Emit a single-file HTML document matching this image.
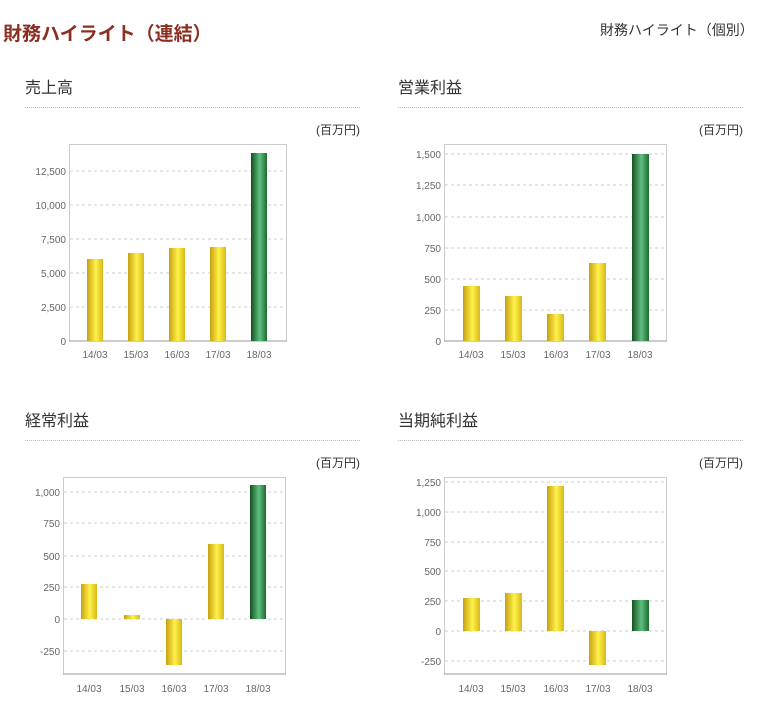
<!DOCTYPE html><html><head><meta charset="utf-8"><style>
body{margin:0;background:#fff;width:768px;height:719px;overflow:hidden}
svg text{font-family:"Liberation Sans","Noto Sans CJK JP",sans-serif}
</style></head><body>
<svg width="768" height="719" xmlns="http://www.w3.org/2000/svg">
<defs>
<linearGradient id="y" x1="0" x2="1" y1="0" y2="0"><stop offset="0" stop-color="#c9a010"/><stop offset="0.55" stop-color="#fff24a"/><stop offset="1" stop-color="#d8b818"/></linearGradient>
<linearGradient id="g" x1="0" x2="1" y1="0" y2="0"><stop offset="0" stop-color="#13501f"/><stop offset="0.55" stop-color="#5fc080"/><stop offset="1" stop-color="#1e6a30"/></linearGradient>
</defs>
<text x="3" y="40" font-size="19" font-weight="bold" fill="#8b2f22">財務ハイライト（連結）</text>
<text x="600" y="35" font-size="14" fill="#333">財務ハイライト（個別）</text>
<g font-size="16" fill="#333"><text x="25" y="93">売上高</text><text x="398" y="93">営業利益</text><text x="25" y="426">経常利益</text><text x="398" y="426">当期純利益</text></g>
<g stroke="#bbb" stroke-dasharray="1,1"><line x1="25" x2="360" y1="107.5" y2="107.5"/><line x1="398" x2="743" y1="107.5" y2="107.5"/><line x1="25" x2="360" y1="440.5" y2="440.5"/><line x1="398" x2="743" y1="440.5" y2="440.5"/></g>
<g font-size="12" fill="#333" text-anchor="end"><text x="360" y="134">(百万円)</text><text x="743" y="134">(百万円)</text><text x="360" y="467">(百万円)</text><text x="743" y="467">(百万円)</text></g>

<!-- chart 1 -->
<g font-size="10" fill="#666">
<rect x="69.5" y="144.5" width="217" height="196.5" fill="none" stroke="#ccc"/>
<g stroke="#ccc" stroke-dasharray="3,3"><line x1="70" x2="286" y1="171" y2="171"/><line x1="70" x2="286" y1="205" y2="205"/><line x1="70" x2="286" y1="239" y2="239"/><line x1="70" x2="286" y1="273" y2="273"/><line x1="70" x2="286" y1="307" y2="307"/></g>
<line x1="69" x2="287" y1="341" y2="341" stroke="#999"/>
<g text-anchor="end"><text x="66" y="175">12,500</text><text x="66" y="209">10,000</text><text x="66" y="243">7,500</text><text x="66" y="277">5,000</text><text x="66" y="311">2,500</text><text x="66" y="345">0</text></g>
<rect x="87" y="259" width="16" height="82" fill="url(#y)"/><rect x="128" y="253" width="16" height="88" fill="url(#y)"/><rect x="169" y="248" width="16" height="93" fill="url(#y)"/><rect x="210" y="247" width="16" height="94" fill="url(#y)"/><rect x="251" y="153" width="16" height="188" fill="url(#g)"/>
<g text-anchor="middle"><text x="95" y="358">14/03</text><text x="136" y="358">15/03</text><text x="177" y="358">16/03</text><text x="218" y="358">17/03</text><text x="259" y="358">18/03</text></g>
</g>

<!-- chart 2 -->
<g font-size="10" fill="#666">
<rect x="444.5" y="144.5" width="222" height="196.5" fill="none" stroke="#ccc"/>
<g stroke="#ccc" stroke-dasharray="3,3"><line x1="445" x2="666" y1="154" y2="154"/><line x1="445" x2="666" y1="185" y2="185"/><line x1="445" x2="666" y1="217" y2="217"/><line x1="445" x2="666" y1="248" y2="248"/><line x1="445" x2="666" y1="279" y2="279"/><line x1="445" x2="666" y1="310" y2="310"/></g>
<line x1="444" x2="667" y1="341" y2="341" stroke="#999"/>
<g text-anchor="end"><text x="441" y="158">1,500</text><text x="441" y="189">1,250</text><text x="441" y="221">1,000</text><text x="441" y="252">750</text><text x="441" y="283">500</text><text x="441" y="314">250</text><text x="441" y="345">0</text></g>
<rect x="463" y="286" width="17" height="55" fill="url(#y)"/><rect x="505" y="296" width="17" height="45" fill="url(#y)"/><rect x="547" y="314" width="17" height="27" fill="url(#y)"/><rect x="589" y="263" width="17" height="78" fill="url(#y)"/><rect x="632" y="154" width="17" height="187" fill="url(#g)"/>
<g text-anchor="middle"><text x="471" y="358">14/03</text><text x="513" y="358">15/03</text><text x="556" y="358">16/03</text><text x="598" y="358">17/03</text><text x="640" y="358">18/03</text></g>
</g>

<!-- chart 3 -->
<g font-size="10" fill="#666">
<rect x="63.5" y="477.5" width="222" height="196.5" fill="none" stroke="#ccc"/>
<g stroke="#ccc" stroke-dasharray="3,3"><line x1="64" x2="285" y1="492" y2="492"/><line x1="64" x2="285" y1="523" y2="523"/><line x1="64" x2="285" y1="556" y2="556"/><line x1="64" x2="285" y1="587" y2="587"/><line x1="64" x2="285" y1="619" y2="619"/><line x1="64" x2="285" y1="651" y2="651"/></g>
<line x1="63" x2="286" y1="674" y2="674" stroke="#999"/>
<g text-anchor="end"><text x="60" y="496">1,000</text><text x="60" y="527">750</text><text x="60" y="560">500</text><text x="60" y="591">250</text><text x="60" y="623">0</text><text x="60" y="655">-250</text></g>
<rect x="81" y="584" width="16" height="35" fill="url(#y)"/><rect x="124" y="615" width="16" height="4" fill="url(#y)"/><rect x="166" y="619" width="16" height="46" fill="url(#y)"/><rect x="208" y="544" width="16" height="75" fill="url(#y)"/><rect x="250" y="485" width="16" height="134" fill="url(#g)"/>
<g text-anchor="middle"><text x="89" y="692">14/03</text><text x="132" y="692">15/03</text><text x="174" y="692">16/03</text><text x="216" y="692">17/03</text><text x="258" y="692">18/03</text></g>
</g>

<!-- chart 4 -->
<g font-size="10" fill="#666">
<rect x="444.5" y="477.5" width="222" height="196.5" fill="none" stroke="#ccc"/>
<g stroke="#ccc" stroke-dasharray="3,3"><line x1="445" x2="666" y1="482" y2="482"/><line x1="445" x2="666" y1="512" y2="512"/><line x1="445" x2="666" y1="542" y2="542"/><line x1="445" x2="666" y1="571" y2="571"/><line x1="445" x2="666" y1="601" y2="601"/><line x1="445" x2="666" y1="631" y2="631"/><line x1="445" x2="666" y1="661" y2="661"/></g>
<line x1="444" x2="667" y1="674" y2="674" stroke="#999"/>
<g text-anchor="end"><text x="441" y="486">1,250</text><text x="441" y="516">1,000</text><text x="441" y="546">750</text><text x="441" y="575">500</text><text x="441" y="605">250</text><text x="441" y="635">0</text><text x="441" y="665">-250</text></g>
<rect x="463" y="598" width="17" height="33" fill="url(#y)"/><rect x="505" y="593" width="17" height="38" fill="url(#y)"/><rect x="547" y="486" width="17" height="145" fill="url(#y)"/><rect x="589" y="631" width="17" height="34" fill="url(#y)"/><rect x="632" y="600" width="17" height="31" fill="url(#g)"/>
<g text-anchor="middle"><text x="471" y="692">14/03</text><text x="513" y="692">15/03</text><text x="556" y="692">16/03</text><text x="598" y="692">17/03</text><text x="640" y="692">18/03</text></g>
</g>
</svg>
</body></html>
